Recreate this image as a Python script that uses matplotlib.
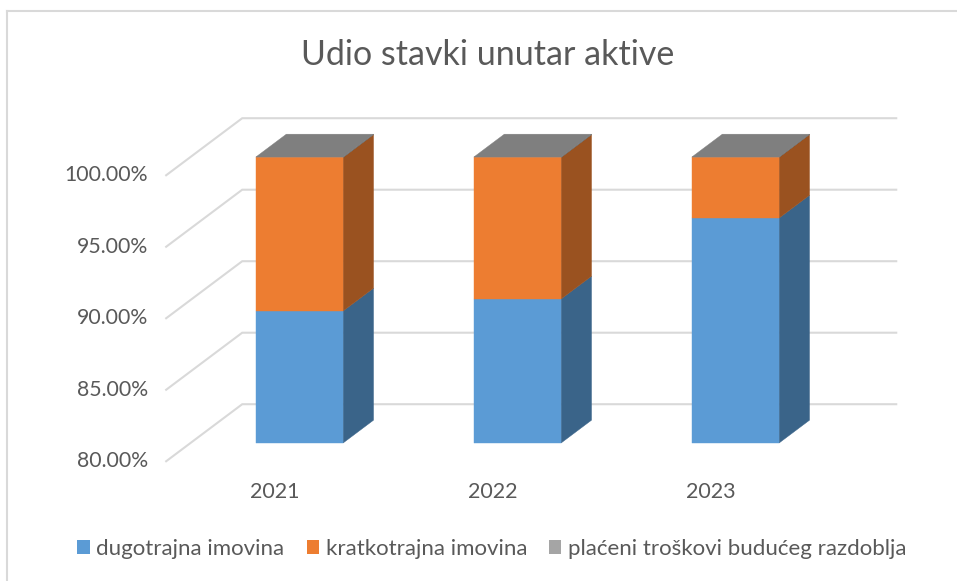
import matplotlib
matplotlib.use("Agg")
import matplotlib.pyplot as plt
from matplotlib.patches import Polygon, Patch
from matplotlib.lines import Line2D

# ---- data ----
categories = ["2021", "2022", "2023"]
series_names = ["dugotrajna imovina", "kratkotrajna imovina", "plaćeni troškovi budućeg razdoblja"]
dugotrajna = [89.23, 90.07, 95.73]
kratkotrajna = [10.74, 9.90, 4.25]
placeni = [0.03, 0.03, 0.02]
y_ticks = [80, 85, 90, 95, 100]
y_tick_labels = ["80.00%", "85.00%", "90.00%", "95.00%", "100.00%"]

front_colors = ["#5B9BD5", "#ED7D31", "#A5A5A5"]
side_colors = ["#3A6489", "#9A5220", "#6B6B6B"]
top_colors = ["#7CAFDD", "#F19A5C", "#7F7F7F"]

FONT = "Lato"
TXT = "#595959"
GRID = "#D9D9D9"

fig = plt.figure(figsize=(9.57, 5.81), dpi=100)
ax = fig.add_axes([190.5 / 957, 1 - 443 / 581, 654 / 957, 286 / 581])
ax.set_xlim(-0.5, 2.5)
ax.set_ylim(80, 100)
ax.axis("off")

# depth vector (full floor depth) in data units
DX, DY = 0.349, 3.99
T_FRONT, T_BAR, T_WALL = -0.32, 0.40, 0.68
bar_w = 0.40

# gridlines (floor-front diagonal + back wall horizontal)
for v in y_ticks:
    x0 = -0.5 + T_FRONT * DX
    y0 = v + T_FRONT * DY
    x1 = -0.5 + T_WALL * DX
    y1 = v + T_WALL * DY
    x2 = 2.5 + T_WALL * DX
    ax.plot([x0, x1, x2], [y0, y1, y1], color=GRID, lw=1.5, clip_on=False, zorder=1,
            solid_joinstyle="miter")
    ax.annotate(y_tick_labels[y_ticks.index(v)], xy=(x0, y0), xytext=(-13, 0),
                textcoords="offset points", ha="right", va="center",
                fontsize=15.3, color=TXT, family=FONT, annotation_clip=False)

# category labels
for i, c in enumerate(categories):
    ax.annotate(c, xy=(i + T_FRONT * DX, 80 + T_FRONT * DY), xytext=(0, -22),
                textcoords="offset points", ha="center", va="center",
                fontsize=15.5, color=TXT, family=FONT, annotation_clip=False)

# bars
series = [dugotrajna, kratkotrajna, placeni]
ddx, ddy = T_BAR * DX, T_BAR * DY
ymin = 80
for i in range(len(categories)):
    cum = 0.0
    for s, vals in enumerate(series):
        b = max(cum, ymin)
        t = cum + vals[i]
        cum = t
        if t <= ymin:
            continue
        xl, xr = i - bar_w / 2, i + bar_w / 2
        front = Polygon([(xl, b), (xr, b), (xr, t), (xl, t)], closed=True,
                        facecolor=front_colors[s], edgecolor=front_colors[s], lw=0.3,
                        clip_on=False, zorder=3)
        side = Polygon([(xr, b), (xr + ddx, b + ddy), (xr + ddx, t + ddy), (xr, t)],
                       closed=True, facecolor=side_colors[s], edgecolor=side_colors[s],
                       lw=0.3, clip_on=False, zorder=2)
        ax.add_patch(side)
        ax.add_patch(front)
        if s == len(series) - 1:
            top = Polygon([(xl, t), (xr, t), (xr + ddx, t + ddy), (xl + ddx, t + ddy)],
                          closed=True, facecolor=top_colors[s], edgecolor=top_colors[s],
                          lw=0.3, clip_on=False, zorder=4)
            ax.add_patch(top)

# title
fig.text(487.5 / 957, 1 - 55 / 581, "Udio stavki unutar aktive", ha="center", va="center",
         fontsize=24.5, color=TXT, family=FONT)

# legend
handles = [Patch(facecolor=front_colors[k], edgecolor="none") for k in range(3)]
leg = fig.legend(handles, series_names, loc="center", bbox_to_anchor=(492 / 957, 1 - 549 / 581),
                 ncol=3, frameon=False, handlelength=0.55, handleheight=0.55,
                 handletextpad=0.3, columnspacing=1.0,
                 prop={"family": FONT, "size": 16})
for txt in leg.get_texts():
    txt.set_color(TXT)

# chart border (left and top visible)
fig.add_artist(Line2D([7 / 957, 7 / 957], [0, 1 - 11 / 581], color=GRID, lw=1.5,
                      transform=fig.transFigure))
fig.add_artist(Line2D([7 / 957, 1], [1 - 11 / 581, 1 - 11 / 581], color=GRID, lw=1.5,
                      transform=fig.transFigure))

fig.savefig("out.png", dpi=100)
